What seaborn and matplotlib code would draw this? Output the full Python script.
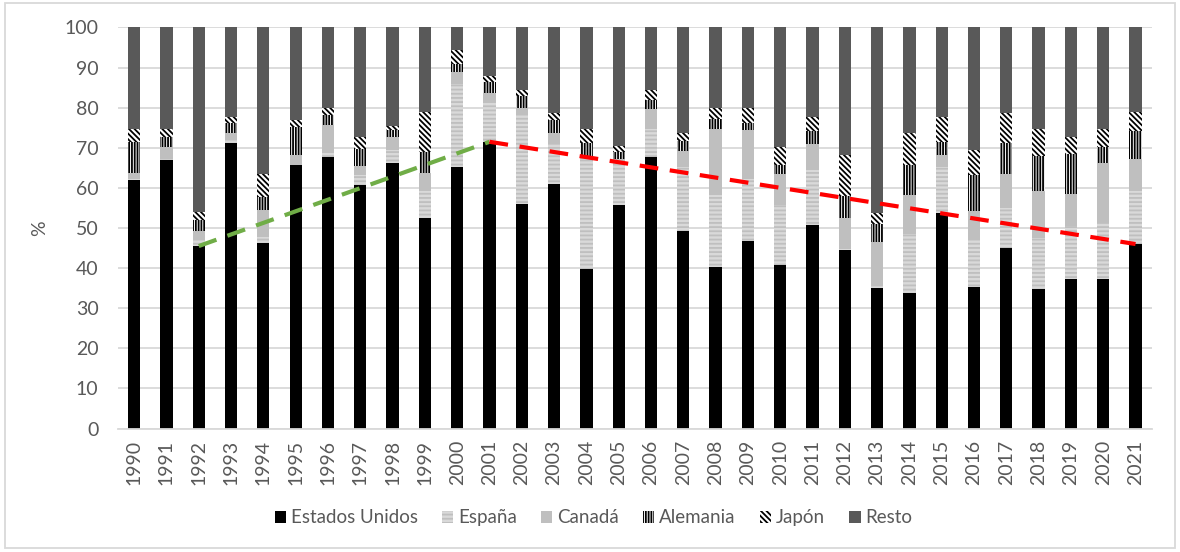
import matplotlib
matplotlib.use("Agg")
import matplotlib.pyplot as plt
import seaborn as sns
from matplotlib.patches import Patch, Rectangle

# data (% share per year)
years = [str(y) for y in range(1990, 2022)]
estados_unidos = [62.0, 66.9, 45.5, 71.3, 46.3, 65.8, 67.7, 60.8, 66.1, 52.4, 65.3, 71.5, 55.9, 60.9, 39.7, 55.7,
                  67.6, 49.3, 40.2, 46.8, 40.7, 50.7, 44.6, 35.1, 33.7, 53.8, 35.3, 45.1, 34.7, 37.2, 37.2, 46.0]
espana = [0.3, 0.2, 1.5, 0.7, 1.5, 0.2, 1.0, 2.4, 3.3, 6.9, 20.7, 10.0, 22.2, 10.2, 27.6, 10.4,
          7.2, 16.0, 18.0, 15.5, 15.0, 13.7, 0.2, 0.6, 14.9, 11.5, 11.7, 9.8, 12.7, 13.3, 14.3, 13.3]
canada = [1.3, 3.1, 2.3, 1.8, 6.6, 2.2, 6.9, 2.3, 3.3, 4.3, 2.9, 2.2, 1.7, 2.6, 0.4, 1.2,
          4.8, 3.9, 16.4, 12.1, 7.7, 6.5, 7.6, 10.9, 9.6, 2.9, 7.3, 8.5, 11.9, 7.9, 14.6, 8.0]
alemania = [7.9, 2.5, 2.7, 2.5, 3.4, 7.0, 2.6, 4.3, 1.7, 5.4, 2.1, 2.8, 3.1, 3.2, 3.5, 1.7,
            2.3, 2.5, 2.7, 1.7, 2.3, 3.3, 5.5, 4.4, 7.4, 3.3, 8.9, 7.8, 8.6, 10.1, 4.1, 6.9]
japon = [3.3, 2.1, 2.0, 1.3, 5.6, 1.7, 1.8, 2.8, 1.0, 10.0, 3.5, 1.4, 1.6, 1.8, 3.6, 1.4,
         2.6, 2.0, 2.5, 3.9, 4.5, 3.4, 10.3, 2.8, 8.0, 6.2, 6.2, 7.4, 6.9, 4.2, 4.6, 4.8]
resto = [25.2, 25.2, 46.0, 22.4, 36.6, 23.1, 20.0, 27.4, 24.6, 21.0, 5.5, 12.1, 15.5, 21.3, 25.2, 29.6,
         15.5, 26.3, 20.2, 20.0, 29.8, 22.4, 31.8, 46.2, 26.4, 22.3, 30.6, 21.4, 25.2, 27.3, 25.2, 21.0]

series_names = ["Estados Unidos", "España", "Canadá", "Alemania", "Japón", "Resto"]
series_vals = [estados_unidos, espana, canada, alemania, japon, resto]
# facecolor, hatch colour, hatch
styles = [("#000000", "#000000", None),
          ("#d9d9d9", "#bfbfbf", "----"),
          ("#bfbfbf", "#bfbfbf", None),
          ("#ffffff", "#000000", "||||||"),
          ("#ffffff", "#000000", "\\\\\\\\\\\\"),
          ("#595959", "#595959", None)]

# trend lines over the US share
green_years = ["1992", "2001"]
red_years = ["2001", "2021"]

sns.set_theme(style="white")
plt.rcParams["font.family"] = ["Lato", "DejaVu Sans"]
plt.rcParams["hatch.linewidth"] = 1.3

fig = plt.figure(figsize=(11.8, 5.52), dpi=100)
ax = fig.add_axes([0.1, 0.2237, 0.876, 0.7265])

# cumulative sums, draw tallest first so each lower layer covers the one above it
cum = []
running = [0.0] * len(years)
for vals in series_vals:
    running = [a + b for a, b in zip(running, vals)]
    cum.append(list(running))

for i in reversed(range(len(series_vals))):
    fc, hc, hatch = styles[i]
    sns.barplot(x=years, y=cum[i], ax=ax, color=fc, saturation=1, width=0.38,
                errorbar=None, edgecolor=hc, linewidth=0, hatch=hatch, zorder=2)

# dashed trend lines between US values
gx = [years.index(y) for y in green_years]
ax.plot(gx, [estados_unidos[i] for i in gx], color="#70ad47", lw=3, ls=(0, (4.5, 2.8)), zorder=4)
rx = [years.index(y) for y in red_years]
ax.plot(rx, [estados_unidos[i] for i in rx], color="#ff0000", lw=3, ls=(0, (4.5, 2.8)), zorder=4)

ax.set_ylim(0, 100)
ax.set_xlim(-0.5, len(years) - 0.5)
ax.set_yticks(range(0, 101, 10))
ax.yaxis.grid(True, color="#d9d9d9", lw=1.3)
ax.set_axisbelow(True)
for s in ["top", "right", "left"]:
    ax.spines[s].set_visible(False)
ax.spines["bottom"].set_color("#d9d9d9")
ax.spines["bottom"].set_linewidth(1.3)

ax.tick_params(axis="y", length=0, pad=14, labelsize=14, labelcolor="#595959")
ax.tick_params(axis="x", length=0, pad=8, labelsize=14, labelcolor="#595959", rotation=90)
ax.set_xlabel("")
ax.set_ylabel("%", fontsize=14, color="#595959")
ax.yaxis.set_label_coords(-0.068, 0.5)

handles = [Patch(facecolor=styles[i][0], edgecolor=styles[i][1], hatch=styles[i][2], linewidth=0)
           for i in range(len(series_names))]
fig.legend(handles, series_names, loc="center", bbox_to_anchor=(0.503, 0.062), ncol=6, frameon=False,
           fontsize=13.5, labelcolor="#595959", handlelength=0.6, handleheight=0.6,
           handletextpad=0.25, columnspacing=1.3)

# chart frame
fig.patches.append(Rectangle((0.004, 0.007), 0.992, 0.987, transform=fig.transFigure,
                             fill=False, edgecolor="#d9d9d9", lw=1.3))

fig.savefig("out.png", dpi=100)
